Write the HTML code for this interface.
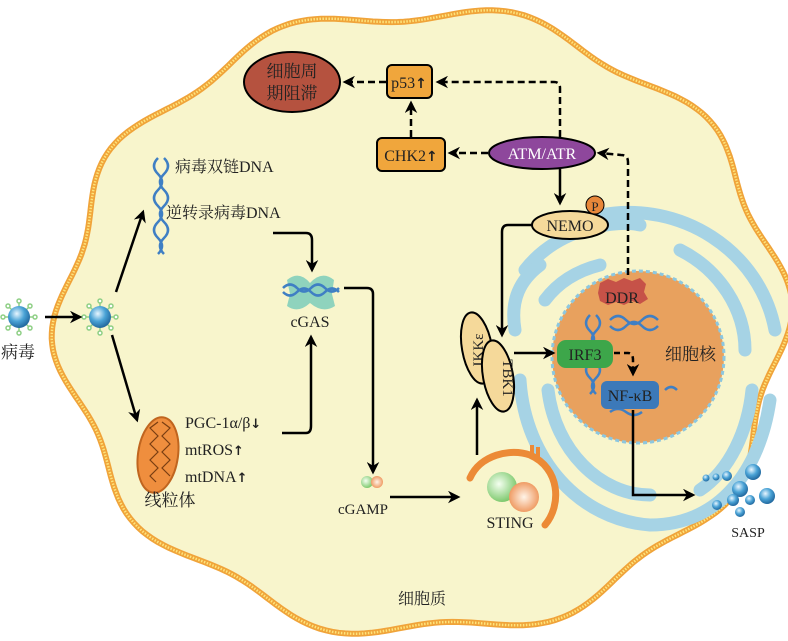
<!DOCTYPE html>
<html><head><meta charset="utf-8"><style>
html,body{margin:0;padding:0;background:#fff;width:788px;height:641px;overflow:hidden}
svg{display:block}
text{font-family:"Liberation Serif","Noto Serif CJK SC",serif;fill:#222}
.cn{font-family:"Liberation Serif","Noto Serif CJK SC","Noto Sans CJK SC",serif}
.ar{font-family:"DejaVu Sans",sans-serif;font-weight:bold}
</style></head><body>
<svg width="788" height="641" viewBox="0 0 788 641" xmlns="http://www.w3.org/2000/svg">
<defs>
<marker id="ah" viewBox="0 0 10 10" refX="8" refY="5" markerWidth="5" markerHeight="5" orient="auto-start-reverse"><path d="M0,0 L10,5 L0,10 L3,5 z" fill="#000"/></marker>
<radialGradient id="gb" cx="0.4" cy="0.35" r="0.7"><stop offset="0" stop-color="#e8f6ff"/><stop offset="0.5" stop-color="#4aa3d6"/><stop offset="1" stop-color="#1c5f96"/></radialGradient>
<radialGradient id="gg" cx="0.4" cy="0.4" r="0.7"><stop offset="0" stop-color="#f4fff0"/><stop offset="1" stop-color="#6cc15a"/></radialGradient>
<radialGradient id="go" cx="0.5" cy="0.5" r="0.6"><stop offset="0" stop-color="#fff4e8"/><stop offset="1" stop-color="#ec8a4a"/></radialGradient>
</defs>
<ellipse id="fb" cx="422" cy="322" rx="360" ry="310" fill="#f8f5cc"/>
<path id="cell" d="" fill="#f8f5cc" stroke="#f0a43a" stroke-width="6"/>
<path id="cell2" d="" fill="none" stroke="#fde47c" stroke-width="2.5" stroke-dasharray="1.5 1.5"/>

<!-- ER -->
<g fill="none" stroke="#a6d3e5" stroke-width="13" stroke-linecap="round">
<path d="M600,215 C680,200 760,250 775,330"/>
<path d="M525,270 C560,225 620,220 640,225"/>
<path d="M515,330 C510,300 520,280 540,265"/>
<path d="M520,380 C525,460 580,520 650,525 C720,525 760,470 770,400"/>
<path d="M548,390 C555,450 600,495 650,495"/>
<path d="M680,250 C720,270 745,310 745,350"/>
<path d="M700,490 C730,470 748,430 752,390"/>
<path d="M545,300 C560,280 580,270 600,265"/>
</g>
<circle cx="638" cy="357" r="86" fill="#e8a15e" stroke="#8cc7e0" stroke-width="3" stroke-dasharray="4 3"/>
<path d="M600,283 l8,-4 8,3 8,-4 8,3 8,-3 6,6 -2,8 4,7 -8,5 -8,-3 -8,4 -8,-3 -8,3 -8,-4 -2,-8 z" fill="#c65248"/>
<text x="622" y="303" font-size="16" text-anchor="middle">DDR</text>
<g stroke="#3f7fc4" stroke-width="2.5" fill="none">
<path d="M610,320 q8,-8 16,0 t16,0 t16,0"/>
<path d="M610,326 q8,8 16,0 t16,0 t16,0"/>
<path d="M590,315 q-8,8 0,16 t0,16"/><path d="M596,315 q8,8 0,16 t0,16"/>
<path d="M590,362 q-8,8 0,16 t0,16"/><path d="M596,362 q8,8 0,16 t0,16"/>
<path d="M610,412 q8,-6 16,0 t16,0"/><path d="M665,390 q6,-6 12,0"/>
</g>
<rect x="557" y="340" width="56" height="28" rx="9" fill="#3da64a"/>
<text x="585" y="360" font-size="16" text-anchor="middle">IRF3</text>
<rect x="601" y="381" width="58" height="28" rx="6" fill="#3c79b9"/>
<text x="630" y="401" font-size="16" text-anchor="middle">NF-κB</text>
<text x="665" y="360" font-size="17" class="cn">细胞核</text>
<path d="M614,353 L628,353 Q633,353 633,360 L633,374" fill="none" stroke="#000" stroke-width="2.5" stroke-dasharray="6 4" marker-end="url(#ah)"/>
<path d="M633,410 L633,495 L693,495" fill="none" stroke="#000" stroke-width="2.5" marker-end="url(#ah)"/>

<!-- SASP -->
<g fill="url(#gb)">
<circle cx="706" cy="478" r="3.5"/><circle cx="716" cy="477" r="3.5"/><circle cx="727" cy="476" r="5"/>
<circle cx="753" cy="472" r="8"/><circle cx="740" cy="489" r="8"/><circle cx="733" cy="500" r="6"/>
<circle cx="750" cy="500" r="5"/><circle cx="767" cy="496" r="8"/><circle cx="717" cy="505" r="5"/>
<circle cx="740" cy="512" r="5"/>
</g>
<text x="748" y="537" font-size="14" text-anchor="middle">SASP</text>

<!-- top pathway -->
<ellipse cx="292" cy="82" rx="48" ry="30" fill="#b5523f" stroke="#000" stroke-width="2"/>
<text x="292" y="77" font-size="17" text-anchor="middle" class="cn">细胞周</text>
<text x="292" y="99" font-size="17" text-anchor="middle" class="cn">期阻滞</text>
<rect x="387" y="65" width="45" height="33" rx="5" fill="#f0a63c" stroke="#000" stroke-width="2"/>
<text x="409" y="88" font-size="16" text-anchor="middle">p53<tspan class="ar" font-size="14">↑</tspan></text>
<rect x="377" y="138" width="68" height="33" rx="5" fill="#f0a63c" stroke="#000" stroke-width="2"/>
<text x="411" y="161" font-size="16" text-anchor="middle">CHK2<tspan class="ar" font-size="14">↑</tspan></text>
<ellipse cx="542" cy="153" rx="53" ry="16" fill="#8e479c" stroke="#000" stroke-width="2"/>
<text x="542" y="159" font-size="16" text-anchor="middle" style="fill:#fff">ATM/ATR</text>
<g fill="none" stroke="#000" stroke-width="2.5" stroke-dasharray="7 4">
<path d="M386,82 L345,82" marker-end="url(#ah)"/>
<path d="M560,137 L560,88 Q560,82 554,82 L438,82" marker-end="url(#ah)"/>
<path d="M488,153 L450,153" marker-end="url(#ah)"/>
<path d="M411,137 L411,103" marker-end="url(#ah)"/>
<path d="M628,275 L628,162 Q628,155 621,155 L599,153" marker-end="url(#ah)"/>
</g>
<path d="M560,169 L560,203" stroke="#000" stroke-width="2.5" marker-end="url(#ah)"/>
<ellipse cx="570" cy="225" rx="38" ry="14" fill="#f5d99a" stroke="#000" stroke-width="2"/>
<text x="570" y="231" font-size="16" text-anchor="middle">NEMO</text>
<circle cx="595" cy="205" r="9" fill="#e8873a" stroke="#000" stroke-width="1"/>
<text x="595" y="211" font-size="13" text-anchor="middle">P</text>
<path d="M532,225 L508,225 Q502,225 502,232 L502,335" fill="none" stroke="#000" stroke-width="2.5" marker-end="url(#ah)"/>

<!-- IKK / TBK1 -->
<g transform="rotate(-10 477 348)"><ellipse cx="477" cy="348" rx="15" ry="36" fill="#f5d99a" stroke="#000" stroke-width="2"/></g>
<text x="483" y="350" font-size="15" text-anchor="middle" transform="rotate(-90 483 350)">IKKε</text>
<g transform="rotate(-10 498 376)"><ellipse cx="498" cy="376" rx="15" ry="36" fill="#f5d99a" stroke="#000" stroke-width="2"/></g>
<text x="503" y="378" font-size="15" text-anchor="middle" transform="rotate(90 503 378)">TBK1</text>
<path d="M514,353 L553,353" stroke="#000" stroke-width="2.5" marker-end="url(#ah)"/>
<path d="M477,455 L477,400" stroke="#000" stroke-width="2.5" marker-end="url(#ah)"/>

<!-- STING -->
<path d="M470,478 C480,455 510,448 530,455 C560,468 562,505 545,525" fill="none" stroke="#ec8a36" stroke-width="7" stroke-linecap="round"/>
<path d="M532,455 l0,-10 M538,457 l0,-10" stroke="#ec8a36" stroke-width="4"/>
<circle cx="502" cy="487" r="15" fill="url(#gg)"/>
<circle cx="524" cy="497" r="15" fill="url(#go)"/>
<text x="510" y="528" font-size="16" text-anchor="middle">STING</text>
<path d="M390,497 L458,497" stroke="#000" stroke-width="2.5" marker-end="url(#ah)"/>

<!-- cGAMP -->
<circle cx="367" cy="482" r="6" fill="url(#gg)"/><circle cx="377" cy="482" r="6" fill="url(#go)"/>
<text x="363" y="514" font-size="15" text-anchor="middle">cGAMP</text>
<path d="M344,288 L367,288 Q373,288 373,294 L373,472" fill="none" stroke="#000" stroke-width="2.5" marker-end="url(#ah)"/>

<!-- cGAS -->
<path d="M287,280 q12,-10 23,3 q12,-13 24,-3 l-2,14 3,12 q-12,8 -25,-3 q-12,11 -23,3 l3,-12 z" fill="#8fd3bd"/>
<g stroke="#3f7fc4" stroke-width="2.5" fill="none"><path d="M283,288 q7,-7 14,0 t14,0 t14,0 t14,0"/><path d="M283,292 q7,7 14,0 t14,0 t14,0 t14,0"/></g>
<text x="310" y="327" font-size="16" text-anchor="middle">cGAS</text>
<path d="M273,233 L306,233 Q312,233 312,240 L312,270" fill="none" stroke="#000" stroke-width="2.5" marker-end="url(#ah)"/>
<path d="M282,433 L306,433 Q311,433 311,426 L311,337" fill="none" stroke="#000" stroke-width="2.5" marker-end="url(#ah)"/>

<!-- DNA left -->
<g stroke="#3f7fc4" stroke-width="2.5" fill="none"><path d="M158,158 q-8,8 0,16 t0,16 t0,16 t0,16 t0,16 t0,16"/><path d="M164,158 q8,8 0,16 t0,16 t0,16 t0,16 t0,16 t0,16"/></g>
<text x="175" y="172" font-size="16" class="cn">病毒双链DNA</text>
<text x="166" y="218" font-size="16" class="cn">逆转录病毒DNA</text>

<!-- mito -->
<ellipse cx="158" cy="455" rx="20" ry="38" fill="#ef8e3e" stroke="#c0651f" stroke-width="2" transform="rotate(8 158 455)"/>
<path d="M158,422 l-8,6 8,8 -8,8 8,8 -8,8 8,8 -8,8 6,6 M162,422 l8,6 -8,8 8,8 -8,8 8,8 -8,8 8,8" fill="none" stroke="#7a3e12" stroke-width="1.2"/>
<text x="185" y="428" font-size="16">PGC-1α/β<tspan class="ar" font-size="13">↓</tspan></text>
<text x="185" y="455" font-size="16">mtROS<tspan class="ar" font-size="13">↑</tspan></text>
<text x="185" y="482" font-size="16">mtDNA<tspan class="ar" font-size="13">↑</tspan></text>
<text x="170" y="506" font-size="17" text-anchor="middle" class="cn">线粒体</text>

<!-- viruses -->
<g id="v1"><g stroke="#8fcf86" stroke-width="1.5" fill="#fff">
<line x1="19" y1="301" x2="19" y2="333"/><line x1="3" y1="317" x2="35" y2="317"/><line x1="8" y1="306" x2="30" y2="328"/><line x1="30" y1="306" x2="8" y2="328"/>
<circle cx="19" cy="301" r="2"/><circle cx="19" cy="333" r="2"/><circle cx="3" cy="317" r="2"/><circle cx="35" cy="317" r="2"/>
<circle cx="8" cy="306" r="2"/><circle cx="30" cy="306" r="2"/><circle cx="8" cy="328" r="2"/><circle cx="30" cy="328" r="2"/></g>
<circle cx="19" cy="317" r="11" fill="url(#gb)"/></g>
<use href="#v1" x="81" y="0"/>
<text x="18" y="358" font-size="17" text-anchor="middle" class="cn">病毒</text>
<path d="M45,317 L80,317" stroke="#000" stroke-width="2.5" marker-end="url(#ah)"/>
<path d="M116,292 L143,212" stroke="#000" stroke-width="2.5" marker-end="url(#ah)"/>
<path d="M112,335 L137,420" stroke="#000" stroke-width="2.5" marker-end="url(#ah)"/>

<text x="422" y="604" font-size="16" text-anchor="middle" class="cn">细胞质</text>
</svg>
<script>
(function(){var cx=422,cy=322,rx=360,ry=310,n=360,d="";
for(var i=0;i<=n;i++){var t=i/n*2*Math.PI;var k=1+0.03*Math.cos(10*t+0.6);
var x=cx+rx*k*Math.cos(t),y=cy+ry*k*Math.sin(t);d+=(i?"L":"M")+x.toFixed(1)+","+y.toFixed(1);}
d+="Z";document.getElementById("cell").setAttribute("d",d);document.getElementById("cell2").setAttribute("d",d);
document.getElementById("fb").setAttribute("rx","0");})();
</script>
</body></html>
